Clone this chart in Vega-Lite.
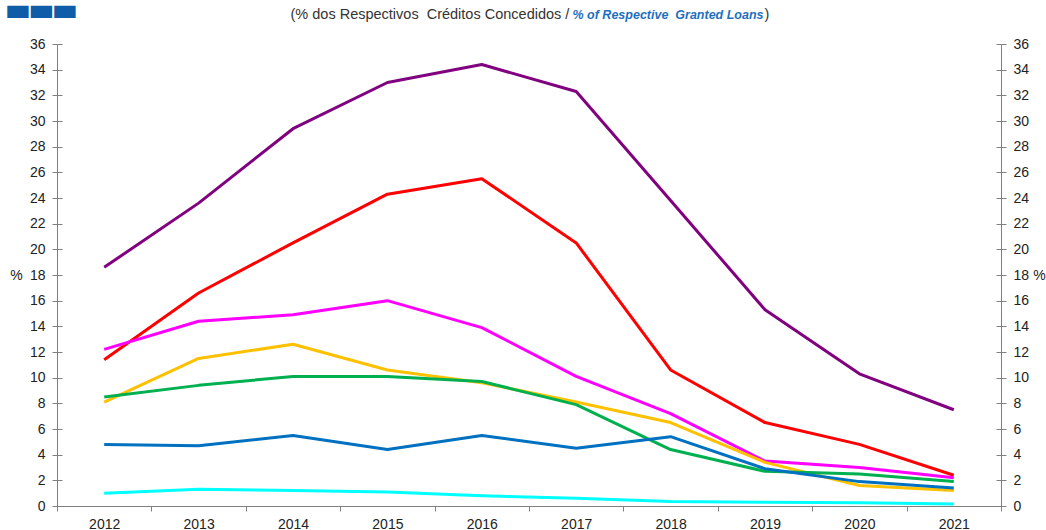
{
  "$schema": "https://vega.github.io/schema/vega-lite/v6.json",
  "width": 944,
  "height": 462,
  "autosize": {"type": "none"},
  "padding": {"left": 57, "top": 44, "right": 45, "bottom": 24},
  "background": "white",
  "config": {
    "view": {"stroke": null},
    "font": "Liberation Sans",
    "axis": {"grid": false, "labelFont": "Liberation Sans", "labelFontSize": 14, "labelColor": "#222222", "domainColor": "#808080", "tickColor": "#808080", "titleFont": "Liberation Sans"}
  },
  "data": {
    "values": [
      {"year": "2012", "series": "S1", "value": 18.6},
      {"year": "2013", "series": "S1", "value": 23.6},
      {"year": "2014", "series": "S1", "value": 29.4},
      {"year": "2015", "series": "S1", "value": 33.0},
      {"year": "2016", "series": "S1", "value": 34.4},
      {"year": "2017", "series": "S1", "value": 32.3},
      {"year": "2018", "series": "S1", "value": 23.8},
      {"year": "2019", "series": "S1", "value": 15.3},
      {"year": "2020", "series": "S1", "value": 10.3},
      {"year": "2021", "series": "S1", "value": 7.5},
      {"year": "2012", "series": "S2", "value": 11.4},
      {"year": "2013", "series": "S2", "value": 16.6},
      {"year": "2014", "series": "S2", "value": 20.5},
      {"year": "2015", "series": "S2", "value": 24.3},
      {"year": "2016", "series": "S2", "value": 25.5},
      {"year": "2017", "series": "S2", "value": 20.5},
      {"year": "2018", "series": "S2", "value": 10.6},
      {"year": "2019", "series": "S2", "value": 6.5},
      {"year": "2020", "series": "S2", "value": 4.8},
      {"year": "2021", "series": "S2", "value": 2.4},
      {"year": "2012", "series": "S3", "value": 12.2},
      {"year": "2013", "series": "S3", "value": 14.4},
      {"year": "2014", "series": "S3", "value": 14.9},
      {"year": "2015", "series": "S3", "value": 16.0},
      {"year": "2016", "series": "S3", "value": 13.9},
      {"year": "2017", "series": "S3", "value": 10.1},
      {"year": "2018", "series": "S3", "value": 7.2},
      {"year": "2019", "series": "S3", "value": 3.5},
      {"year": "2020", "series": "S3", "value": 3.0},
      {"year": "2021", "series": "S3", "value": 2.2},
      {"year": "2012", "series": "S4", "value": 8.1},
      {"year": "2013", "series": "S4", "value": 11.5},
      {"year": "2014", "series": "S4", "value": 12.6},
      {"year": "2015", "series": "S4", "value": 10.6},
      {"year": "2016", "series": "S4", "value": 9.6},
      {"year": "2017", "series": "S4", "value": 8.1},
      {"year": "2018", "series": "S4", "value": 6.5},
      {"year": "2019", "series": "S4", "value": 3.4},
      {"year": "2020", "series": "S4", "value": 1.6},
      {"year": "2021", "series": "S4", "value": 1.2},
      {"year": "2012", "series": "S5", "value": 8.5},
      {"year": "2013", "series": "S5", "value": 9.4},
      {"year": "2014", "series": "S5", "value": 10.1},
      {"year": "2015", "series": "S5", "value": 10.1},
      {"year": "2016", "series": "S5", "value": 9.7},
      {"year": "2017", "series": "S5", "value": 7.9},
      {"year": "2018", "series": "S5", "value": 4.4},
      {"year": "2019", "series": "S5", "value": 2.7},
      {"year": "2020", "series": "S5", "value": 2.5},
      {"year": "2021", "series": "S5", "value": 1.9},
      {"year": "2012", "series": "S6", "value": 4.8},
      {"year": "2013", "series": "S6", "value": 4.7},
      {"year": "2014", "series": "S6", "value": 5.5},
      {"year": "2015", "series": "S6", "value": 4.4},
      {"year": "2016", "series": "S6", "value": 5.5},
      {"year": "2017", "series": "S6", "value": 4.5},
      {"year": "2018", "series": "S6", "value": 5.4},
      {"year": "2019", "series": "S6", "value": 2.9},
      {"year": "2020", "series": "S6", "value": 1.9},
      {"year": "2021", "series": "S6", "value": 1.4},
      {"year": "2012", "series": "S7", "value": 1.0},
      {"year": "2013", "series": "S7", "value": 1.3},
      {"year": "2014", "series": "S7", "value": 1.2},
      {"year": "2015", "series": "S7", "value": 1.1},
      {"year": "2016", "series": "S7", "value": 0.8},
      {"year": "2017", "series": "S7", "value": 0.6},
      {"year": "2018", "series": "S7", "value": 0.35},
      {"year": "2019", "series": "S7", "value": 0.3},
      {"year": "2020", "series": "S7", "value": 0.25},
      {"year": "2021", "series": "S7", "value": 0.15}
    ]
  },
  "layer": [
    {
      "mark": {"type": "line", "strokeWidth": 3, "strokeJoin": "round"},
      "encoding": {
        "x": {
          "field": "year", "type": "ordinal", "bandPosition": 0.5,
          "scale": {"type": "band", "paddingInner": 0, "paddingOuter": 0},
          "axis": {
            "orient": "bottom", "tickBand": "extent", "labelAngle": 0, "tickSize": 5, "labelPadding": 6,
            "title": "(% dos Respectivos \u00a0Créditos Concedidos /",
            "titleX": 233, "titleY": -488, "titleAlign": "left", "titleBaseline": "alphabetic",
            "titleFontSize": 14.5, "titleFontWeight": "normal", "titleColor": "#333333"
          }
        },
        "y": {
          "field": "value", "type": "quantitative",
          "scale": {"domain": [0, 36], "nice": false},
          "axis": {
            "orient": "left", "values": [0,2,4,6,8,10,12,14,16,18,20,22,24,26,28,30,32,34,36],
            "tickSize": 5, "labelPadding": 7,
            "title": "%", "titleAngle": 0, "titleX": -41, "titleY": 231, "titleAlign": "center", "titleBaseline": "middle",
            "titleFontSize": 14, "titleFontWeight": "normal", "titleColor": "#222222"
          }
        },
        "color": {
          "field": "series", "type": "nominal", "legend": null,
          "scale": {"domain": ["S1","S2","S3","S4","S5","S6","S7"], "range": ["#800080","#ff0000","#ff00ff","#ffc000","#00b050","#0070c0","#00ffff"]}
        }
      }
    },
    {
      "mark": {"type": "line", "strokeWidth": 3, "opacity": 0},
      "encoding": {
        "x": {
          "field": "year", "type": "ordinal", "bandPosition": 0.5,
          "scale": {"type": "band", "paddingInner": 0, "paddingOuter": 0},
          "axis": {
            "orient": "top", "labels": false, "ticks": false, "domain": false,
            "title": "% of Respective \u00a0Granted Loans",
            "titleX": 515, "titleY": -26, "titleAlign": "left", "titleBaseline": "alphabetic",
            "titleFontSize": 12.5, "titleFontWeight": "bold", "titleFontStyle": "italic", "titleColor": "#1f6fbf"
          }
        },
        "y": {
          "field": "value", "type": "quantitative",
          "scale": {"domain": [0, 36], "nice": false},
          "axis": {
            "orient": "right", "values": [0,2,4,6,8,10,12,14,16,18,20,22,24,26,28,30,32,34,36],
            "tickSize": 5, "labelPadding": 7,
            "title": "%", "titleAngle": 0, "titleX": 38, "titleY": 231, "titleAlign": "center", "titleBaseline": "middle",
            "titleFontSize": 14, "titleFontWeight": "normal", "titleColor": "#222222"
          }
        },
        "color": {"field": "series", "type": "nominal", "legend": null}
      }
    },
    {
      "mark": {"type": "line", "opacity": 0},
      "encoding": {
        "x": {"field": "year", "type": "ordinal", "bandPosition": 0.5, "scale": {"type": "band", "paddingInner": 0, "paddingOuter": 0}, "axis": null},
        "y": {
          "field": "value", "type": "quantitative", "scale": {"domain": [0, 36], "nice": false},
          "axis": {
            "orient": "left", "offset": -5, "values": [0,2,4,6,8,10,12,14,16,18,20,22,24,26,28,30,32,34,36], "tickSize": 5, "labels": false, "domain": false,
            "title": "▃\u200a▃\u200a▃", "titleAngle": 0, "titleX": -55, "titleY": -41.5, "titleAlign": "left", "titleBaseline": "middle",
            "titleFont": "DejaVu Sans", "titleFontSize": 27, "titleFontWeight": "normal", "titleColor": "#0f5ca8"
          }
        },
        "color": {"field": "series", "type": "nominal", "legend": null}
      }
    },
    {
      "mark": {"type": "line", "opacity": 0},
      "encoding": {
        "x": {"field": "year", "type": "ordinal", "bandPosition": 0.5, "scale": {"type": "band", "paddingInner": 0, "paddingOuter": 0}, "axis": null},
        "y": {
          "field": "value", "type": "quantitative", "scale": {"domain": [0, 36], "nice": false},
          "axis": {
            "orient": "right", "offset": -5, "values": [0,2,4,6,8,10,12,14,16,18,20,22,24,26,28,30,32,34,36], "tickSize": 5, "labels": false, "domain": false,
            "title": ")", "titleAngle": 0, "titleX": -232, "titleY": -26, "titleAlign": "left", "titleBaseline": "alphabetic",
            "titleFontSize": 14.5, "titleFontWeight": "normal", "titleColor": "#333333"
          }
        },
        "color": {"field": "series", "type": "nominal", "legend": null}
      }
    }
  ],
  "resolve": {"axis": {"x": "independent", "y": "independent"}}
}
